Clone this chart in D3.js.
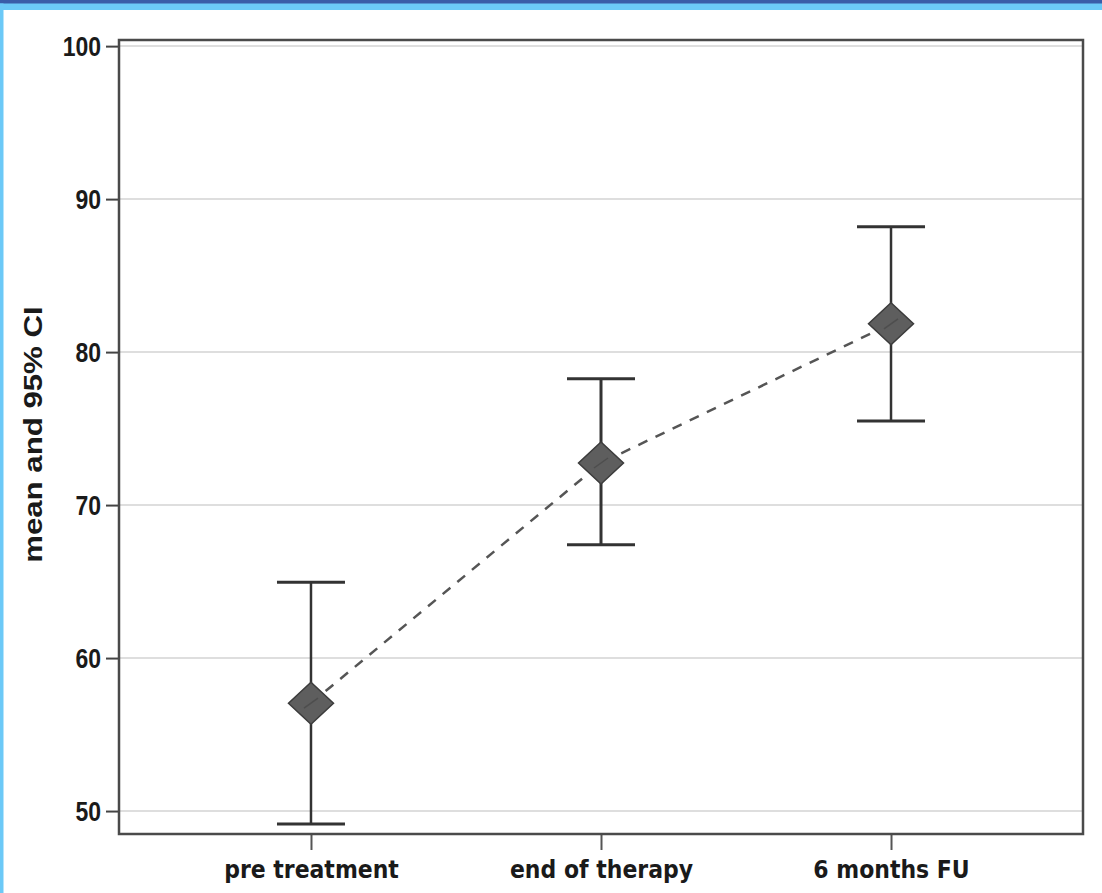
<!DOCTYPE html>
<html>
<head>
<meta charset="utf-8">
<script src="https://cdn.jsdelivr.net/npm/d3@7/dist/d3.min.js"></script>
<style>
  html, body { margin: 0; padding: 0; background: #ffffff; }
  svg { display: block; }
</style>
</head>
<body>
<svg id="chart" width="1102" height="893"></svg>
<script>
// Time points and the mean score with its 95% confidence interval
const timepoints = ["pre treatment", "end of therapy", "6 months FU"];
const means      = [57.05, 72.75, 81.85];
const ciLower    = [49.15, 67.4, 75.5];
const ciUpper    = [64.95, 78.25, 88.2];
const yTicks     = [50, 60, 70, 80, 90, 100];

const data = timepoints.map((t, i) => ({ t, mean: means[i], lo: ciLower[i], hi: ciUpper[i] }));

const svg = d3.select("#chart");
const W = 1102, H = 893;
const box = { left: 119, top: 40, right: 1083, bottom: 834 };

// window frame strips along the top and left edge
svg.append("rect").attr("x", 0).attr("y", 0).attr("width", W).attr("height", 10).attr("fill", "#6cc9f7");
svg.append("rect").attr("x", 0).attr("y", 0).attr("width", W).attr("height", 3.5).attr("fill", "#3a5ca8");
svg.append("rect").attr("x", 0).attr("y", 3.5).attr("width", 3.5).attr("height", H).attr("fill", "#6cc9f7");

const x = d3.scalePoint()
  .domain(timepoints)
  .range([box.left, box.right])
  .padding(0.662);

const y = d3.scaleLinear()
  .domain([48.5, 100.4])
  .range([box.bottom, box.top]);

// horizontal grid lines
svg.append("g")
  .selectAll("line")
  .data(yTicks)
  .join("line")
  .attr("x1", box.left).attr("x2", box.right)
  .attr("y1", d => y(d)).attr("y2", d => y(d))
  .attr("stroke", "#dedede")
  .attr("stroke-width", 2);

// y axis with tick labels (slightly stretched vertically)
const yAxis = svg.append("g")
  .attr("transform", `translate(${box.left},0)`)
  .call(d3.axisLeft(y).tickValues(yTicks).tickSize(13).tickPadding(5).tickFormat(d3.format("d")));
yAxis.select(".domain").remove();
yAxis.selectAll(".tick line").attr("stroke", "#444").attr("stroke-width", 2);
yAxis.selectAll(".tick text")
  .attr("fill", "#1a1a1a")
  .attr("font-family", "'Liberation Sans', Arial, sans-serif")
  .attr("font-weight", "bold")
  .attr("font-size", 23)
  .attr("dy", null)
  .attr("y", 0)
  .attr("dominant-baseline", "central")
  .attr("transform", "scale(1,1.2)");

// x axis ticks and labels
const xAxis = svg.append("g")
  .attr("transform", `translate(0,${box.bottom})`)
  .call(d3.axisBottom(x).tickSize(16).tickPadding(6));
xAxis.select(".domain").remove();
xAxis.selectAll(".tick line").attr("stroke", "#555").attr("stroke-width", 2);
xAxis.selectAll(".tick text")
  .attr("fill", "#1a1a1a")
  .attr("font-family", "'DejaVu Sans', sans-serif")
  .attr("font-weight", "bold")
  .attr("font-size", 22)
  .attr("dy", null)
  .attr("transform", "scale(1,1.15)")
  .attr("y", 44 / 1.15);

// plot frame
svg.append("rect")
  .attr("x", box.left).attr("y", box.top)
  .attr("width", box.right - box.left).attr("height", box.bottom - box.top)
  .attr("fill", "none")
  .attr("stroke", "#4a4a4a")
  .attr("stroke-width", 2.5);

// y axis title
svg.append("text")
  .attr("transform", `translate(42,${(y(100) + y(50)) / 2 + 6}) rotate(-90) scale(1.2,1)`)
  .attr("text-anchor", "middle")
  .attr("fill", "#1a1a1a")
  .attr("font-family", "'Liberation Sans', Arial, sans-serif")
  .attr("font-weight", "bold")
  .attr("font-size", 26)
  .text("mean and 95% CI");

// dashed line through the means
const line = d3.line()
  .x(d => x(d.t))
  .y(d => y(d.mean));
svg.append("path")
  .datum(data)
  .attr("d", line)
  .attr("fill", "none")
  .attr("stroke", "#555")
  .attr("stroke-width", 2.5)
  .attr("stroke-dasharray", "10,9");

// confidence interval whiskers
const capHalf = 34;
const bars = svg.append("g").selectAll("g").data(data).join("g");
bars.append("line")
  .attr("x1", d => x(d.t)).attr("x2", d => x(d.t))
  .attr("y1", d => y(d.hi)).attr("y2", d => y(d.lo))
  .attr("stroke", "#333").attr("stroke-width", (d, i) => i === 1 ? 3 : 2.5);
bars.append("line")
  .attr("x1", d => x(d.t) - capHalf).attr("x2", d => x(d.t) + capHalf)
  .attr("y1", d => y(d.hi)).attr("y2", d => y(d.hi))
  .attr("stroke", "#333").attr("stroke-width", 3);
bars.append("line")
  .attr("x1", d => x(d.t) - capHalf).attr("x2", d => x(d.t) + capHalf)
  .attr("y1", d => y(d.lo)).attr("y2", d => y(d.lo))
  .attr("stroke", "#333").attr("stroke-width", 3);

// diamond markers at the means
const hw = 22.5, hh = 21;
bars.append("path")
  .attr("d", d => {
    const cx = x(d.t), cy = y(d.mean);
    return `M${cx},${cy - hh}L${cx + hw},${cy}L${cx},${cy + hh}L${cx - hw},${cy}Z`;
  })
  .attr("fill", "#5e5e5e")
  .attr("stroke", "#3c3c3c")
  .attr("stroke-width", 1.5);

// short dash segment visible over each marker centre
bars.append("line")
  .attr("x1", d => x(d.t) - 7).attr("x2", d => x(d.t) + 7)
  .attr("y1", d => y(d.mean) + 5).attr("y2", d => y(d.mean) - 5)
  .attr("stroke", "#444").attr("stroke-width", 1.5).attr("opacity", 0.6);
</script>
</body>
</html>
